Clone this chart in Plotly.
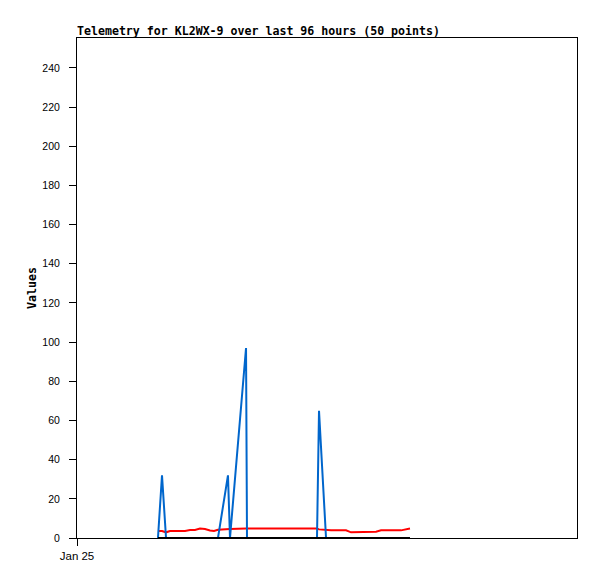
import plotly.graph_objects as go

times = [
    "2024-01-25 19:26", "2024-01-25 20:24", "2024-01-25 21:22", "2024-01-25 22:19", "2024-01-25 23:31",
    "2024-01-26 00:43", "2024-01-26 01:55", "2024-01-26 03:07", "2024-01-26 04:19", "2024-01-26 05:31",
    "2024-01-26 06:43", "2024-01-26 07:55", "2024-01-26 08:53", "2024-01-26 09:50", "2024-01-26 12:14",
    "2024-01-26 12:43", "2024-01-26 16:34", "2024-01-26 16:48", "2024-01-26 18:00", "2024-01-26 19:12",
    "2024-01-26 20:24", "2024-01-26 21:36", "2024-01-26 22:48", "2024-01-27 00:00", "2024-01-27 01:12",
    "2024-01-27 02:24", "2024-01-27 03:36", "2024-01-27 04:48", "2024-01-27 06:00", "2024-01-27 07:12",
    "2024-01-27 08:24", "2024-01-27 09:36", "2024-01-27 10:05", "2024-01-27 11:46", "2024-01-27 12:58",
    "2024-01-27 14:10", "2024-01-27 15:22", "2024-01-27 16:34", "2024-01-27 17:46", "2024-01-27 18:58",
    "2024-01-27 20:10", "2024-01-27 21:22", "2024-01-27 22:34", "2024-01-27 23:46", "2024-01-28 00:58",
    "2024-01-28 02:10", "2024-01-28 03:22", "2024-01-28 04:34", "2024-01-28 05:46", "2024-01-28 07:55",
]

red_values = [
    3.6, 3.6, 2.9, 3.6, 3.6, 3.6, 3.6, 4.1, 4.1, 4.8,
    4.6, 3.8, 3.6, 4.2, 4.6, 4.6, 4.8, 4.8, 4.8, 4.8,
    4.8, 4.8, 4.8, 4.8, 4.8, 4.8, 4.8, 4.8, 4.8, 4.8,
    4.8, 4.8, 4.4, 3.9, 3.9, 3.9, 3.9, 3.9, 2.9, 2.9,
    2.9, 3.2, 3.2, 3.2, 3.9, 3.9, 3.9, 3.9, 3.9, 4.8,
]

blue_values = [
    0, 32, 0, 0, 0, 0, 0, 0, 0, 0,
    0, 0, 0, 0, 32, 0, 97, 0, 0, 0,
    0, 0, 0, 0, 0, 0, 0, 0, 0, 0,
    0, 0, 65, 0, 0, 0, 0, 0, 0, 0,
    0, 0, 0, 0, 0, 0, 0, 0, 0, 0,
]

black_values = [0] * 50

y_ticks = [0, 20, 40, 60, 80, 100, 120, 140, 160, 180, 200, 220, 240]
x_tick_vals = ["2024-01-25"]
x_tick_text = ["Jan 25"]

# the page body has an 8px margin, so the figure is shrunk by that offset
W, H = 589, 571

fig = go.Figure()
fig.add_trace(go.Scatter(x=times, y=red_values, mode="lines",
                         line=dict(color="#ff0000", width=2), showlegend=False))
fig.add_trace(go.Scatter(x=times, y=blue_values, mode="lines",
                         line=dict(color="#0066cc", width=2), showlegend=False))
fig.add_trace(go.Scatter(x=times, y=black_values, mode="lines",
                         line=dict(color="#000000", width=2), showlegend=False))

fig.update_layout(
    width=W, height=H,
    margin=dict(l=69, r=20, t=30, b=41),
    paper_bgcolor="white", plot_bgcolor="white",
    title=dict(text="<b>Telemetry for KL2WX-9 over last 96 hours (50 points)</b>",
               font=dict(family="DejaVu Sans Mono", size=11.6, color="black"),
               x=69 / W, xanchor="left", xref="container",
               y=1 - 23 / H, yanchor="middle", yref="container"),
    font=dict(family="Liberation Sans", size=10, color="black"),
)
fig.update_xaxes(
    type="date",
    range=["2024-01-25 00:00", "2024-01-30 00:00"],
    tickvals=x_tick_vals, ticktext=x_tick_text,
    ticks="outside", ticklen=7, tickcolor="black",
    showline=True, linecolor="black", linewidth=1, mirror=True,
    showgrid=False, zeroline=False, automargin=False,
    tickfont=dict(family="Liberation Sans", size=11.5, color="black"),
)
fig.update_yaxes(
    range=[0, 255.3],
    tickvals=y_ticks,
    ticks="outside", ticklen=7, tickcolor="black",
    showline=True, linecolor="black", linewidth=1, mirror=True,
    showgrid=False, zeroline=False, automargin=False,
    ticklabelstandoff=7,
    tickfont=dict(family="Liberation Sans", size=10.5, color="black"),
    title=dict(text="<b>Values</b>", font=dict(family="DejaVu Sans Mono", size=11.6, color="black"),
               standoff=3),
)

fig.write_html("out.html")
